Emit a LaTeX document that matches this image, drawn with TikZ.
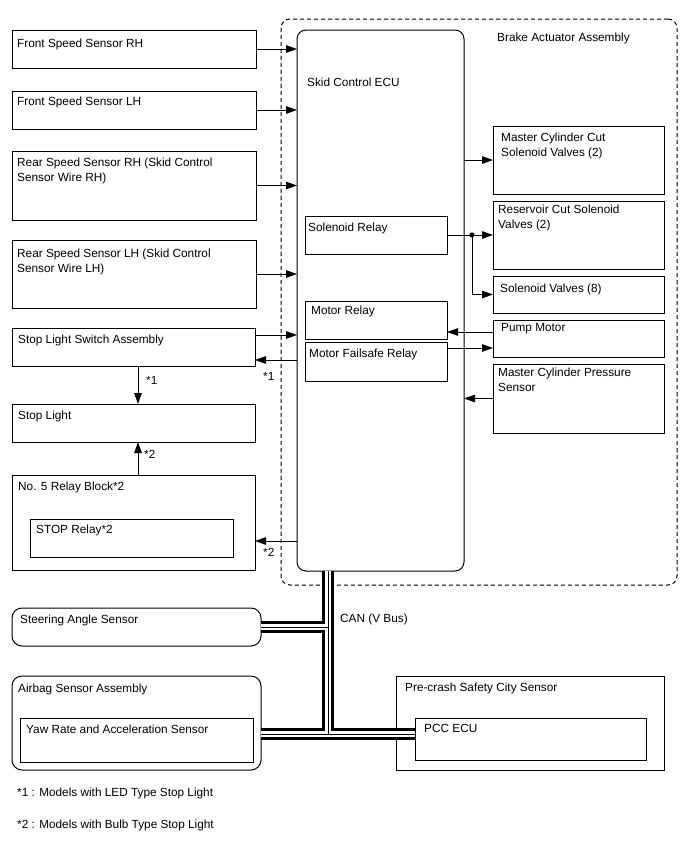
\documentclass[tikz,border=0pt]{standalone}
\usepackage{fontspec}
\setmainfont{Liberation Sans}
\usetikzlibrary{arrows.meta, positioning}

\tikzset{
  box/.style={draw, line width=1pt, anchor=north west, inner sep=0pt, outer sep=0pt},
  rbox/.style={box, rounded corners=9pt},
  tag/.style={anchor=north west, align=left, inner sep=0pt},
  arr/.style={line width=1pt, -{Triangle[length=11pt, width=7.5pt]}},
}

\begin{document}
\begin{tikzpicture}[x=1pt, y=-1pt, font=\fontsize{11.8}{15.5}\selectfont]

  \useasboundingbox (0,0) rectangle (688,852);

  % --- Brake actuator assembly and skid control ECU ---
  \node[box, dash pattern=on 4pt off 3pt, rounded corners=9pt,
    minimum width=396, minimum height=566] (bact) at (281,19) {};
  \node[tag] (bact-t) at (497,32.5) {Brake Actuator Assembly};
  \node[rbox, minimum width=167, minimum height=541] (ecu) at (297,30) {};
  \node[tag] (ecu-t) at (307,77.5) {Skid Control ECU};

  % --- Relays inside the ECU ---
  \node[box, minimum width=142, minimum height=38] (solrly) at (305,216) {};
  \node[tag] (solrly-t) at (308,222.5) {Solenoid Relay};
  \node[box, minimum width=142, minimum height=38] (motrly) at (305,301) {};
  \node[tag] (motrly-t) at (311,305.5) {Motor Relay};
  \node[box, minimum width=142, minimum height=39] (mfsrly) at (305,342) {};
  \node[tag] (mfsrly-t) at (309,348.5) {Motor Failsafe Relay};

  % --- Sensors and switches on the left ---
  \node[box, minimum width=244, minimum height=38] (fsrh) at (12,30) {};
  \node[tag] (fsrh-t) at (17,38.5) {Front Speed Sensor RH};
  \node[box, minimum width=244, minimum height=38] (fslh) at (12,91) {};
  \node[tag] (fslh-t) at (17,96.5) {Front Speed Sensor LH};
  \node[box, minimum width=244, minimum height=69] (rsrh) at (12,151) {};
  \node[tag] (rsrh-t) at (17,157.5)
    {Rear Speed Sensor RH (Skid Control\\Sensor Wire RH)};
  \node[box, minimum width=244, minimum height=68] (rslh) at (12,240) {};
  \node[tag] (rslh-t) at (17,248.5)
    {Rear Speed Sensor LH (Skid Control\\Sensor Wire LH)};
  \node[box, minimum width=243, minimum height=38] (sls) at (12,328) {};
  \node[tag] (sls-t) at (18,334.5) {Stop Light Switch Assembly};
  \node[box, minimum width=243, minimum height=38] (slt) at (12,404) {};
  \node[tag] (slt-t) at (18,410.5) {Stop Light};
  \node[box, minimum width=243, minimum height=95] (rb5) at (12,475) {};
  \node[tag] (rb5-t) at (18,481.5) {No. 5 Relay Block*2};
  \node[box, minimum width=203, minimum height=38] (stoprly) at (30,519) {};
  \node[tag] (stoprly-t) at (36,524.5) {STOP Relay*2};

  % --- Valves, motor and pressure sensor on the right ---
  \node[box, minimum width=171, minimum height=68] (mccut) at (493,126) {};
  \node[tag] (mccut-t) at (501,132.5) {Master Cylinder Cut\\Solenoid Valves (2)};
  \node[box, minimum width=171, minimum height=68] (rescut) at (493,201) {};
  \node[tag] (rescut-t) at (498,204.5) {Reservoir Cut Solenoid\\Valves (2)};
  \node[box, minimum width=171, minimum height=37] (solv) at (493,276) {};
  \node[tag] (solv-t) at (500,283.5) {Solenoid Valves (8)};
  \node[box, minimum width=171, minimum height=37] (pump) at (493,320) {};
  \node[tag] (pump-t) at (501,323.5) {Pump Motor};
  \node[box, minimum width=171, minimum height=69] (mcps) at (493,364) {};
  \node[tag] (mcps-t) at (498,367.5) {Master Cylinder Pressure\\Sensor};

  % --- CAN bus members ---
  \node[rbox, rounded corners=10pt, minimum width=249, minimum height=38] (sas) at (12,608) {};
  \node[tag] (sas-t) at (20,614.5) {Steering Angle Sensor};
  \node[rbox, rounded corners=10pt, minimum width=249, minimum height=94] (abag) at (12,676) {};
  \node[tag] (abag-t) at (18,683.5) {Airbag Sensor Assembly};
  \node[box, minimum width=233, minimum height=44] (yaw) at (20,718) {};
  \node[tag] (yaw-t) at (26,724.5) {Yaw Rate and Acceleration Sensor};
  \node[box, line width=0.8pt, minimum width=268, minimum height=94] (pcs) at (396,676) {};
  \node[tag] (pcs-t) at (405,682.5) {Pre-crash Safety City Sensor};
  \node[box, minimum width=231, minimum height=42] (pcc) at (415,718) {};
  \node[tag] (pcc-t) at (424,724.5) {PCC ECU};

  % --- Inputs to the ECU ---
  \draw[arr] (fsrh.east) -- (fsrh.east -| ecu.west);
  \draw[arr] (fslh.east) -- (fslh.east -| ecu.west);
  \draw[arr] (rsrh.east) -- (rsrh.east -| ecu.west);
  \draw[arr] (rslh.east) -- (rslh.east -| ecu.west);
  \draw[arr] ([yshift=12pt]sls.east) -- ([yshift=12pt]sls.east -| ecu.west);
  \draw[arr] ([yshift=-13pt]sls.east -| ecu.west) -- ([yshift=-13pt]sls.east);
  \draw[arr] ([yshift=-3pt]stoprly.east -| ecu.west) -- ([yshift=-3pt]stoprly.east -| rb5.east);
  \node[tag] (n1a) at (263,372.5) {*1};
  \node[tag] (n2a) at (263,548.5) {*2};

  % --- Stop light feeds ---
  \draw[arr] ([xshift=4.5pt]sls.south) -- ([xshift=4.5pt]slt.north);
  \draw[arr] ([xshift=4.5pt]rb5.north) -- ([xshift=4.5pt]slt.south);
  \node[tag] (n1b) at (146,376.5) {*1};
  \node[tag] (n2b) at (144,450.5) {*2};

  % --- Outputs on the right ---
  \draw[arr] (mccut.west -| ecu.east) -- (mccut.west);
  \coordinate (jn) at ([xshift=25pt]solrly.east);
  \draw[arr] (solrly.east) -- (solrly.east -| rescut.west);
  \draw[arr] (jn) |- (solv.west);
  \fill (jn) circle (2.6pt);
  \draw[arr] ([yshift=6.5pt]pump.west) -- ([yshift=6.5pt]pump.west -| motrly.east);
  \draw[arr] ([yshift=-9.5pt]pump.west -| mfsrly.east) -- ([yshift=-9.5pt]pump.west);
  \draw[arr] (mcps.west) -- (mcps.west -| ecu.east);

  % --- CAN (V Bus) ---
  \coordinate (canT) at (328,734);
  \foreach \w/\c in {12/black, 6/white, 0.8/black}{
    \draw[line width=\w pt, \c]
      (ecu.south -| canT) -- (canT)
      (sas.east) -- (sas.east -| canT)
      (canT -| abag.east) -- (canT -| pcc.west);
  }
  \node[tag] (can-t) at (340,613.5) {CAN (V Bus)};

  % --- Notes ---
  \node[tag] (note1) at (17,787.5) {*1 : Models with LED Type Stop Light};
  \node[tag] (note2) at (17,819.5) {*2 : Models with Bulb Type Stop Light};

\end{tikzpicture}
\end{document}
